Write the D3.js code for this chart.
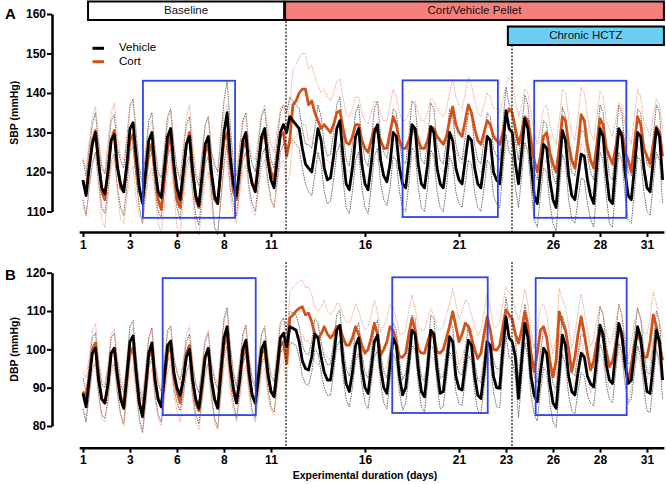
<!DOCTYPE html>
<html><head><meta charset="utf-8">
<script src="https://cdn.jsdelivr.net/npm/d3@7"></script>
<style>
body{margin:0;background:#fff}
text{font-family:"Liberation Sans",Arial,Helvetica,sans-serif}
</style>
</head><body>
<svg id="c" width="666" height="484"></svg>
<script>
// ---- Data: 6 samples per day (4-h bins), starting at day 1.0 ----
const sbpVehicle = [
118,114,121,127,130,122,
116,114.5,120,128,129.5,121,
117,115,122,131,132.5,124,
116,112,120,128,130,121,
115,113.5,121,129,131,122,
116,113,120,127,129,120,
114,111.5,119,127,129,120,
114,112,121,130,135,124,
117,114,121,128,130,121,
117,115,122,129,131,123,
118,116,123,130,132,130,
134,133,132,131,126,122,
121,120,125,131,128,121,
118,118.5,124,131,133,124,
117,115.5,121,129,131,122,
117,115.5,122,130,132,123,
119,117.5,122,130,129,121,
117,116,123,132,131,122,
117,116,122,131.5,130,121,
117,116,122,130,128,121,
118,117,123,129,128,121,
117,116,122,129,128,120,
118,117,126,135.5,131,130,
122,117,125,133.5,131,122,
114,112,120,127,126,118,
113,111,121,130.5,128,119,
114,113,119,124.5,124,118,
114,112,122,131,129,120,
113,112,122,131,129,120,
114,113,121,130,129,121,
116,115,123,131,129,118
];
const sbpCort = [
117.5,115,122,128,130.5,123,
115,113,121,128,130.5,122,
116,115,121,128,129.5,121,
115,113,119,125,127,120,
113,110.5,118,126,129.5,121,
113,111,119,127,130,121,
113,111,118,125,127,119,
113,112,120,128,130,122,
115,113,120,126,128,121,
117,116,122,128,130,124,
120,118,124,129,130,124,
128,137,138,140,141,141,
137,138,135,133,131,132,
131,130,132,135,135.5,131,
127.5,127,129,132,132,128,
126,125,128,131,130,128,
126,126,130,134,132,128,
126,126,128,130,131,128,
126,126,128,131.5,131,129,
128,127,129,133,136.5,132,
130,129,133,137,135,131,
128,127,130,133,132,129,
128,127,130,134,136,135,
131,127,130,134,133,128,
123,120,124,129,130,125,
122,120,126,134,133,127,
123,121,127,134.5,133,127,
123,121,127,133.5,132,126,
124,122,126,130.5,130,125,
123,120,127,134,132,126,
124,122,127,131.5,130,124
];
const dbpVehicle = [
88.5,85,92,99,100.3,92,
87,86,91,99,100.3,93,
87,84.6,93,102,103.5,94,
86,82.4,90,99,101.7,92,
87,85,93,101,102.2,94,
90,88,92,98,100,92,
87,84.6,91,98,100.3,92,
87,84.6,94,103,105.9,96,
90,86,92,100,102.4,94,
88,86,93,100,102,94,
89,87.6,95,103,104.2,100.7,
105.9,105.5,105,102,97,95,
94.6,98,104,103,98,94,
92,92,98,105,106.3,97,
91,89,94,101,103,95,
90,88.5,95,102,103.7,95,
90,88.5,96,102.9,101,93,
88.1,90,97,105,104,95,
89,87.6,95,105,104,95,
88.5,89,96,103.3,102,93,
89.8,89.4,96,102.4,101,93,
88,87.2,94,102,101,93,
90,89.8,100,108.5,103,102,
98,87.2,97,106.8,103,93,
88,86.3,94,100.3,99,91,
86,84.6,94,103.7,101,93,
89,88.1,94,99,98,93,
91,90.2,98,106.3,104,96,
92,91.1,99,106.8,104,96,
91.1,92,99,105.9,103,95,
89,88.5,96,105,102,92
];
const dbpCort = [
89,87.6,93,100,101.7,93,
87,86,91,99,100.3,93,
88,85,92,99,100.5,93,
86,83,90,98,100,92,
87,85,92,99,101,93,
89,86,92,99,101,92,
86,84,91,98,100,92,
87,85,93,101,104,95,
89,86,92,98,101,93,
88,86,92,99,100,93,
89,88,95,101,102,96.3,
108.1,109,110,110.7,111.1,109,
109.4,107.2,104,102.9,104,105.9,
104,103,104,106,105.9,103,
101.1,101.1,103,105.9,104,101.1,
99,100,103,106.8,104,98.5,
100,102,105.9,105,102,98,
98,99,104,108.1,105,100,
99,99,102,104.6,103,99.4,
99,100,103,106,109.8,106,
102,104,106.8,106,103,100,
97.6,99,104,108.5,105,100,
99.8,101,106,110.3,109,108,
104,101.6,105,109.8,106,99,
94.2,99,105,105.9,103,97,
92.8,97,109.8,107,105,100,
94.2,98,104,108.5,104,99,
94.6,97,102,105,103,99,
95.5,97,101,105.5,103,97,
91.5,96,101,104.2,102,98,
98,102,109,106,101,97.2
];
// daily spread (SD) for the thin dotted envelope lines
const sdSbpVehicle = [5,5,6,5,5,5,5,8,5,5,5, 5,6,6,6,6,6,6,6,6,6,6, 6,6,6,6,6,6,6,6,6];
const sdSbpCort    = [6,7,8,6,6,7,7,7,6,7,7, 9,9,8,7,7,7,7,7,7,7,7, 8,7,7,7,7,7,7,7,7];
const sdDbpVehicle = [4,4,4,4,4,4,4,5,4,4,4, 4,4,4,4,4,4,4,4,4,4,4, 5,5,5,5,5,5,5,5,5];
const sdDbpCort    = [5,5,5,5,5,5,5,6,5,5,5, 7,7,6,6,6,6,6,6,6,6,6, 6,6,6,6,6,6,6,6,6];

const seriesNames = ["Vehicle", "Cort"];
const ticksA = [1,3.5,6,8.5,11,16,21,26,28.5,31];
const tickLabelsA = ["1","3","6","8","11","16","21","26","28","31"];
const ticksB = [1,3.5,6,8.5,11,16,21,23.5,26,28.5,31];
const tickLabelsB = ["1","3","6","8","11","16","21","23","26","28","31"];
const yTicksA = [110,120,130,140,150,160];
const yTicksB = [80,90,100,110,120];
const phaseBars = [
  {label:"Baseline", start:1.27, end:11.7, row:0, fill:"#ffffff"},
  {label:"Cort/Vehicle Pellet", start:11.75, end:31.9, row:0, fill:"#f47f7b"},
  {label:"Chronic HCTZ", start:23.6, end:31.9, row:1, fill:"#6bcff5"}
];
const phaseLines = [11.8, 23.82];
const boxesA = [[4.19,9.09,108.4,143.1],[18.0,23.07,108.6,143.2],[25.0,29.9,108.4,143.1]];
const boxesB = [[5.24,10.19,82.85,118.6],[17.45,22.53,83.4,118.8],[25.08,29.92,82.85,118.6]];

// ---- Drawing ----
const svg = d3.select("#c");
const x = d3.scaleLinear().domain([0.8, 31.9]).range([79.2, 663.9]);
const yA = d3.scaleLinear().domain([110,160]).range([211.5,14]);
const yB = d3.scaleLinear().domain([80,120]).range([426,272.7]);
const colV = "#000000", colC = "#d2521a";
const colVthin = "#555555", colCthin = "#ef9f80";

function toPts(arr){ return arr.map((v,i)=>({t:1+i/6, v:v})); }
function band(arr, sd, sign){ return arr.map((v,i)=>({t:1+i/6, v:v+sign*sd[Math.floor(i/6)]})); }

function panel(y, veh, cort, sdV, sdC, ticks, labels, yTicks, axisY, boxes, lineTop, title, letter, letterY){
  const line = d3.line().x(d=>x(d.t)).y(d=>y(d.v));
  const g = svg.append("g");
  [[veh,sdV,colVthin],[cort,sdC,colCthin]].forEach(([a,s,c])=>{
    [1,-1].forEach(sg=>{
      g.append("path").attr("d", line(band(a,s,sg))).attr("fill","none")
        .attr("stroke",c).attr("stroke-width",0.9).attr("stroke-dasharray","1.5,1");
    });
  });
  g.append("path").attr("d", line(toPts(cort))).attr("fill","none").attr("stroke",colC)
    .attr("stroke-width",2.8).attr("stroke-linejoin","round");
  g.append("path").attr("d", line(toPts(veh))).attr("fill","none").attr("stroke",colV)
    .attr("stroke-width",2.8).attr("stroke-linejoin","round");
  boxes.forEach(b=>{
    g.append("rect").attr("x",x(b[0])).attr("y",y(b[3])).attr("width",x(b[1])-x(b[0]))
      .attr("height",y(b[2])-y(b[3])).attr("fill","none").attr("stroke","#2f45e8").attr("stroke-width",1.8);
  });
  phaseLines.forEach((p,k)=>{
    g.append("line").attr("x1",x(p)).attr("x2",x(p)).attr("y1",lineTop[k]).attr("y2",axisY)
      .attr("stroke","#222").attr("stroke-width",1.3).attr("stroke-dasharray","2,1.5");
  });
  const ax = g.append("g").attr("transform",`translate(0,${axisY})`)
    .call(d3.axisBottom(x).tickValues(ticks).tickFormat((d,i)=>labels[i]).tickSize(5).tickPadding(3).tickSizeOuter(0));
  const ay = g.append("g").attr("transform","translate(52,0)")
    .call(d3.axisLeft(y).tickValues(yTicks).tickSize(5).tickPadding(1).tickSizeOuter(0));
  [ax,ay].forEach(a=>{
    a.select(".domain").attr("stroke","#000").attr("stroke-width",2.6);
    a.selectAll(".tick line").attr("stroke","#000").attr("stroke-width",2);
    a.selectAll(".tick text").attr("font-size",12).attr("font-weight","bold").attr("fill","#000")
      .style("font-family",'"Liberation Sans",Arial,sans-serif');
  });
  svg.append("text").attr("transform",`translate(15,${(y.range()[0]+y.range()[1])/2}) rotate(-90)`)
    .attr("text-anchor","middle").attr("dominant-baseline","middle")
    .attr("font-size",10.5).attr("font-weight","bold").text(title);
  svg.append("text").attr("x",5).attr("y",letterY).attr("font-size",15).attr("font-weight","bold").text(letter);
}

panel(yA, sbpVehicle, sbpCort, sdSbpVehicle, sdSbpCort, ticksA, tickLabelsA, yTicksA, 232, boxesA, [21,45], "SBP (mmHg)", "A", 19);
panel(yB, dbpVehicle, dbpCort, sdDbpVehicle, sdDbpCort, ticksB, tickLabelsB, yTicksB, 447.7, boxesB, [262,262], "DBP (mmHg)", "B", 280);

phaseBars.forEach(b=>{
  const y0 = b.row===0 ? 1.5 : 26.5;
  svg.append("rect").attr("x",x(b.start)).attr("y",y0).attr("width",x(b.end)-x(b.start)).attr("height",18.5)
    .attr("fill",b.fill).attr("stroke","#000").attr("stroke-width",2);
  svg.append("text").attr("x",(x(b.start)+x(b.end))/2).attr("y",y0+9.5).attr("text-anchor","middle")
    .attr("dominant-baseline","middle").attr("font-size",11.5).attr("fill","#111").text(b.label);
});

[[colV,48.3],[colC,61.7]].forEach((c,i)=>{
  svg.append("line").attr("x1",92.5).attr("x2",104).attr("y1",c[1]).attr("y2",c[1])
    .attr("stroke",c[0]).attr("stroke-width",3);
  svg.append("text").attr("x",119).attr("y",c[1]).attr("dominant-baseline","middle")
    .attr("font-size",11.5).text(seriesNames[i]);
});

svg.append("text").attr("x",365).attr("y",479).attr("text-anchor","middle").attr("font-size",10.5)
  .attr("font-weight","bold").text("Experimental duration (days)");
</script>
</body></html>
